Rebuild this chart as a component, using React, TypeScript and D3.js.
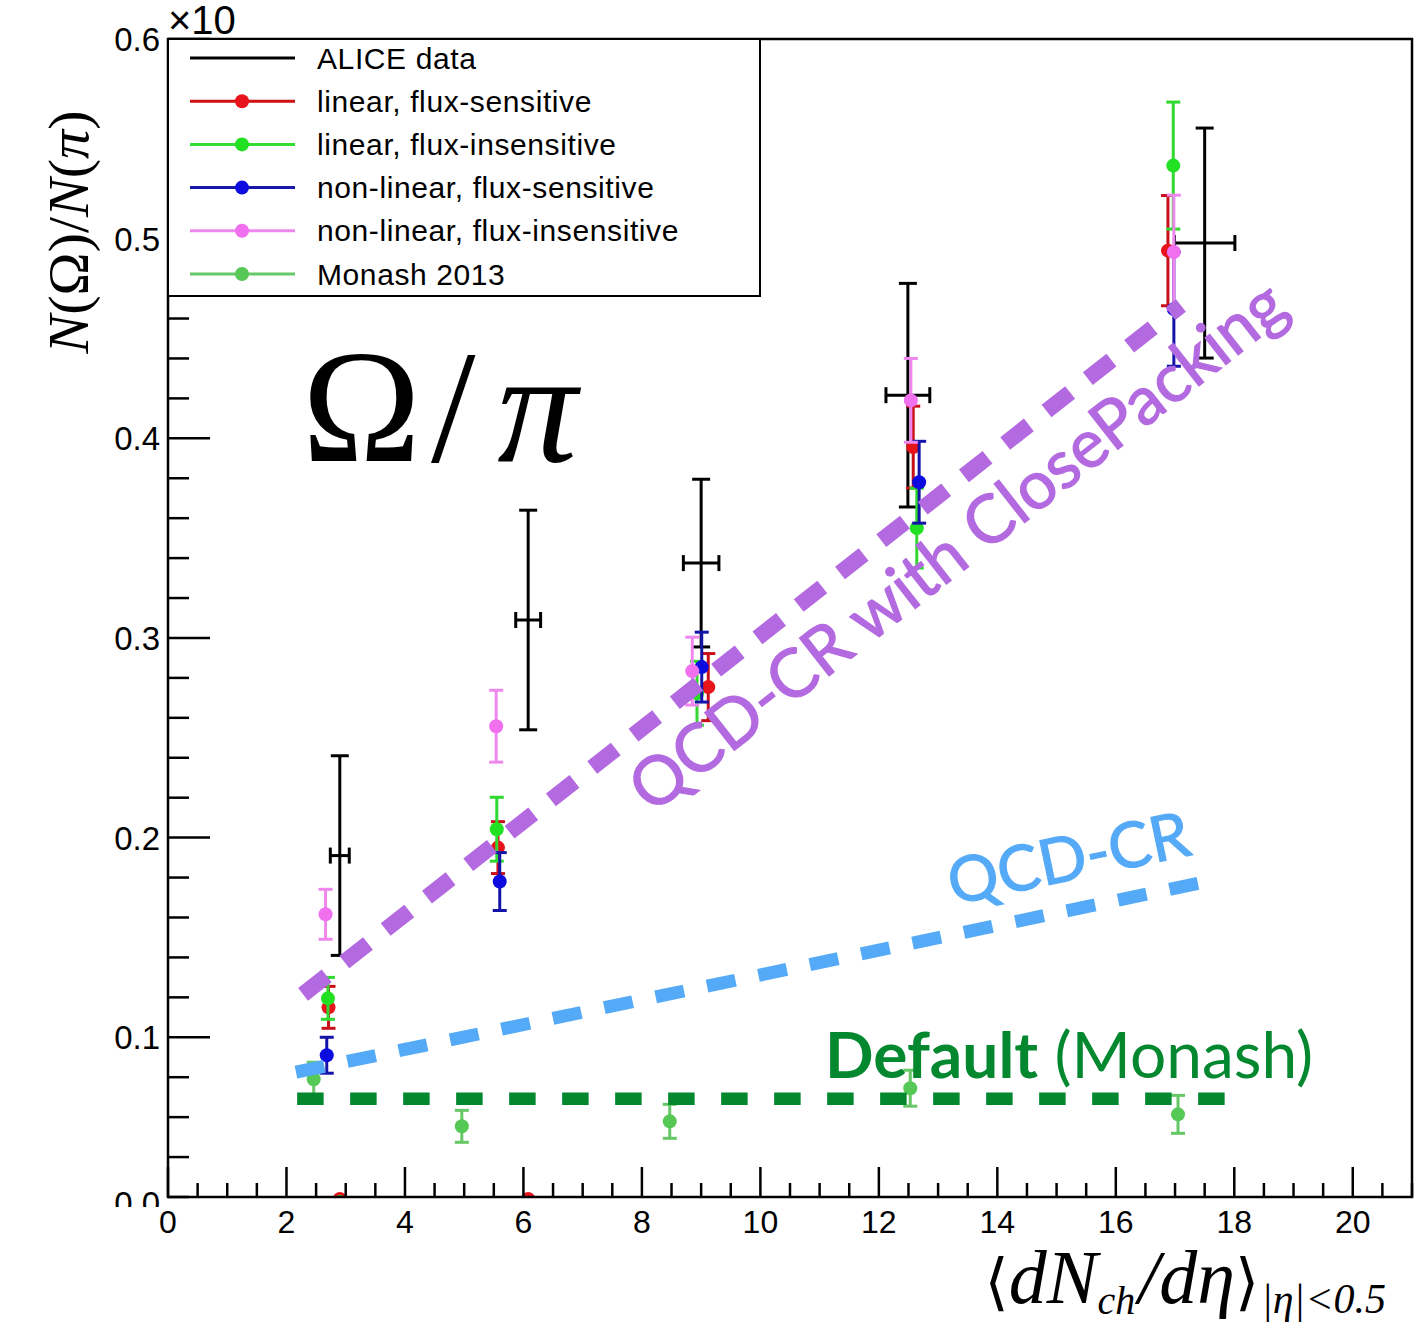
import React, { useRef, useEffect } from "react";
import * as d3 from "d3";

const W = 1418;
const H = 1324;

// axis ranges / ticks
const xDomain = [0, 21];
const yDomain = [0.02, 0.6];
const xTickLabels = [0, 2, 4, 6, 8, 10, 12, 14, 16, 18, 20];
const yTickLabels = [0.1, 0.2, 0.3, 0.4, 0.5, 0.6];

// ALICE data
const aliceX = [2.9, 6.08, 9.0, 12.49, 17.5];
const aliceY = [0.191, 0.309, 0.3375, 0.4216, 0.4978];
const aliceYErr = [0.05, 0.055, 0.042, 0.056, 0.0576];
const aliceXErr = [0.16, 0.21, 0.3, 0.37, 0.51];

// linear, flux-sensitive
const linFsX = [2.71, 5.57, 9.12, 12.58, 16.88];
const linFsY = [0.115, 0.195, 0.2754, 0.3956, 0.494];
const linFsErr = [0.0105, 0.013, 0.0168, 0.0205, 0.0276];

// linear, flux-insensitive
const linFiX = [2.7, 5.55, 8.93, 12.64, 16.97];
const linFiY = [0.1195, 0.2042, 0.2723, 0.355, 0.5366];
const linFiErr = [0.0105, 0.016, 0.016, 0.02, 0.0318];

// non-linear, flux-sensitive
const nlFsX = [2.68, 5.6, 9.01, 12.68, 16.98];
const nlFsY = [0.091, 0.178, 0.2854, 0.378, 0.4647];
const nlFsErr = [0.009, 0.0145, 0.0175, 0.0205, 0.0286];

// non-linear, flux-insensitive
const nlFiX = [2.66, 5.54, 8.85, 12.54, 16.98];
const nlFiY = [0.1616, 0.2558, 0.2834, 0.419, 0.4933];
const nlFiErr = [0.0125, 0.018, 0.017, 0.021, 0.0285];

// Monash 2013
const monX = [2.46, 4.96, 8.47, 12.53, 17.05];
const monY = [0.079, 0.0554, 0.0579, 0.0745, 0.0614];
const monErr = [0.0085, 0.008, 0.0085, 0.009, 0.0095];

// points sitting on the lower edge
const edgeX = [2.9, 2.9, 6.08];
const edgeY = [0.019, 0.019, 0.019];
const edgeColor = ["#e8141b", "#22e022", "#e8141b"];

const legendLabels = [
  "ALICE data",
  "linear, flux-sensitive",
  "linear, flux-insensitive",
  "non-linear, flux-sensitive",
  "non-linear, flux-insensitive",
  "Monash 2013",
];

// annotation lines, in data coords
const purpleLine = [[2.28, 0.1215], [17.1, 0.4665]];
const blueLine = [[2.16, 0.0825], [17.62, 0.1785]];
const greenLine = [[2.18, 0.0692], [17.9, 0.0692]];

const series = [
  { x: linFsX, y: linFsY, e: linFsErr, marker: "#e8141b", bar: "#c8101a", line: "#d01010" },
  { x: linFiX, y: linFiY, e: linFiErr, marker: "#22e022", bar: "#30d830", line: "#33dd33" },
  { x: nlFsX, y: nlFsY, e: nlFsErr, marker: "#0c0ce0", bar: "#1414a8", line: "#1818a8" },
  { x: nlFiX, y: nlFiY, e: nlFiErr, marker: "#f070f0", bar: "#ee88ee", line: "#ee88ee" },
  { x: monX, y: monY, e: monErr, marker: "#55c855", bar: "#66c766", line: "#66c766" },
];

const SANS = "'Liberation Sans', Arial, Helvetica, sans-serif";
const SERIF = "'Liberation Serif', 'Times New Roman', serif";
const ANN = "Lato, 'Open Sans', sans-serif";

const App = () => {
  const svgRef = useRef(null);

  useEffect(() => {
    const svg = d3.select(svgRef.current);
    svg.selectAll("*").remove();

    const x = d3.scaleLinear().domain(xDomain).range([168, 1412]);
    const y = d3.scaleLinear().domain(yDomain).range([1197, 39]);
    const [x0, x1] = x.range();
    const [yb, yt] = y.range();

    const defs = svg.append("defs");
    defs.append("clipPath")
      .attr("id", "plot")
      .append("rect")
      .attr("x", x0)
      .attr("y", yt)
      .attr("width", x1 - x0)
      .attr("height", yb - yt);

    const plot = svg.append("g").attr("clip-path", "url(#plot)");

    // ALICE data points
    aliceX.forEach((xv, i) => {
      const cx = x(xv);
      const cy = y(aliceY[i]);
      const top = y(aliceY[i] + aliceYErr[i]);
      const bot = y(aliceY[i] - aliceYErr[i]);
      const l = x(xv - aliceXErr[i]);
      const r = x(xv + aliceXErr[i]);
      const g = plot.append("g").attr("stroke", "#000").attr("stroke-width", 3);
      g.append("line").attr("x1", cx).attr("x2", cx).attr("y1", top).attr("y2", bot);
      g.append("line").attr("x1", cx - 9).attr("x2", cx + 9).attr("y1", top).attr("y2", top);
      g.append("line").attr("x1", cx - 9).attr("x2", cx + 9).attr("y1", bot).attr("y2", bot);
      g.append("line").attr("x1", l).attr("x2", r).attr("y1", cy).attr("y2", cy);
      g.append("line").attr("x1", l).attr("x2", l).attr("y1", cy - 8).attr("y2", cy + 8);
      g.append("line").attr("x1", r).attr("x2", r).attr("y1", cy - 8).attr("y2", cy + 8);
    });

    // model points
    series.forEach((s) => {
      s.x.forEach((xv, i) => {
        const cx = x(xv);
        const top = y(s.y[i] + s.e[i]);
        const bot = y(s.y[i] - s.e[i]);
        const g = plot.append("g").attr("stroke", s.bar).attr("stroke-width", 3);
        g.append("line").attr("x1", cx).attr("x2", cx).attr("y1", top).attr("y2", bot);
        g.append("line").attr("x1", cx - 7).attr("x2", cx + 7).attr("y1", top).attr("y2", top);
        g.append("line").attr("x1", cx - 7).attr("x2", cx + 7).attr("y1", bot).attr("y2", bot);
        plot.append("circle")
          .attr("cx", cx)
          .attr("cy", y(s.y[i]))
          .attr("r", 7)
          .attr("fill", s.marker);
      });
    });

    edgeX.forEach((xv, i) => {
      plot.append("circle")
        .attr("cx", x(xv))
        .attr("cy", y(edgeY[i]))
        .attr("r", i === 1 ? 4 : 7)
        .attr("fill", edgeColor[i]);
    });

    // frame
    svg.append("rect")
      .attr("x", x0)
      .attr("y", yt)
      .attr("width", x1 - x0)
      .attr("height", yb - yt)
      .attr("fill", "none")
      .attr("stroke", "#000")
      .attr("stroke-width", 2.5);

    // x ticks
    const axes = svg.append("g").attr("stroke", "#000").attr("stroke-width", 2.5);
    d3.range(0, 21.01, 0.5).forEach((v) => {
      const major = Math.abs(v % 2) < 1e-6;
      axes.append("line")
        .attr("x1", x(v)).attr("x2", x(v))
        .attr("y1", yb).attr("y2", yb - (major ? 30 : 14));
    });
    // y ticks
    d3.range(0.02, 0.601, 0.02).forEach((v) => {
      const major = Math.abs(Math.round(v * 10) - v * 10) < 1e-6;
      axes.append("line")
        .attr("x1", x0).attr("x2", x0 + (major ? 42 : 21))
        .attr("y1", y(v)).attr("y2", y(v));
    });

    svg.append("g")
      .selectAll("text")
      .data(xTickLabels)
      .join("text")
      .attr("x", (d) => x(d))
      .attr("y", 1233)
      .attr("text-anchor", "middle")
      .attr("font-family", SANS)
      .attr("font-size", 32)
      .text((d) => d);

    svg.append("g")
      .selectAll("text")
      .data(yTickLabels)
      .join("text")
      .attr("x", 160)
      .attr("y", (d) => y(d) + 12)
      .attr("text-anchor", "end")
      .attr("font-family", SANS)
      .attr("font-size", 33)
      .text((d) => d.toFixed(1));

    // bottom label, half hidden
    defs.append("clipPath")
      .attr("id", "lab0")
      .append("rect")
      .attr("x", 100).attr("y", yb - 30).attr("width", 62).attr("height", 40);
    svg.append("text")
      .attr("clip-path", "url(#lab0)")
      .attr("x", 160)
      .attr("y", yb + 18)
      .attr("text-anchor", "end")
      .attr("font-family", SANS)
      .attr("font-size", 33)
      .text("0.0");

    svg.append("text")
      .attr("x", 168)
      .attr("y", 34)
      .attr("font-family", SANS)
      .attr("font-size", 40)
      .text("×10");

    // y title
    const yt1 = svg.append("text")
      .attr("transform", "translate(88,232) rotate(-90)")
      .attr("text-anchor", "middle")
      .attr("font-family", SERIF)
      .attr("font-size", 58);
    yt1.append("tspan").attr("font-style", "italic").text("N");
    yt1.append("tspan").text("(Ω)/");
    yt1.append("tspan").attr("font-style", "italic").text("N");
    yt1.append("tspan").text("(");
    yt1.append("tspan").attr("font-style", "italic").text("π");
    yt1.append("tspan").text(")");

    // x title
    const xt = svg.append("text")
      .attr("x", 1386)
      .attr("y", 1303)
      .attr("text-anchor", "end")
      .attr("font-family", SERIF)
      .attr("font-style", "italic")
      .attr("font-size", 76);
    xt.append("tspan").attr("font-family", "'DejaVu Serif', serif").attr("font-style", "normal").attr("font-size", 62).text("⟨");
    xt.append("tspan").text("dN");
    xt.append("tspan").attr("font-size", 40).attr("dy", 11).text("ch");
    xt.append("tspan").attr("dy", -11).attr("dx", 3).text("/dη");
    xt.append("tspan").attr("font-family", "'DejaVu Serif', serif").attr("font-style", "normal").attr("font-size", 62).text("⟩");
    xt.append("tspan").attr("font-size", 42).attr("dy", 10).attr("dx", 2).text("|η|<0.5");

    // legend
    const lg = svg.append("g");
    lg.append("rect")
      .attr("x", 168).attr("y", 39).attr("width", 592).attr("height", 257)
      .attr("fill", "#fff").attr("stroke", "#000").attr("stroke-width", 2);
    const legendColors = ["#000", ...series.map((s) => s.line)];
    const legendMarkers = [null, ...series.map((s) => s.marker)];
    legendLabels.forEach((lab, i) => {
      const ry = 58 + i * 43.2;
      lg.append("line")
        .attr("x1", 190).attr("x2", 295).attr("y1", ry).attr("y2", ry)
        .attr("stroke", legendColors[i]).attr("stroke-width", 3);
      if (legendMarkers[i]) {
        lg.append("circle").attr("cx", 242).attr("cy", ry).attr("r", 7).attr("fill", legendMarkers[i]);
      }
      lg.append("text")
        .attr("x", 317).attr("y", ry + 10.5)
        .attr("font-family", SANS).attr("font-size", 30)
        .attr("letter-spacing", 0.6)
        .text(lab);
    });

    // annotations
    const line = d3.line().x((d) => x(d[0])).y((d) => y(d[1]));
    const ang = (pts) =>
      (Math.atan2(y(pts[1][1]) - y(pts[0][1]), x(pts[1][0]) - x(pts[0][0])) * 180) / Math.PI;

    svg.append("path").attr("d", line(blueLine))
      .attr("fill", "none").attr("stroke", "#55aaf7").attr("stroke-width", 13)
      .attr("stroke-dasharray", "29 23.5");
    svg.append("path").attr("d", line(greenLine))
      .attr("fill", "none").attr("stroke", "#03882f").attr("stroke-width", 12.7)
      .attr("stroke-dasharray", "26.5 26.5");
    svg.append("path").attr("d", line(purpleLine))
      .attr("fill", "none").attr("stroke", "#b36ae0").attr("stroke-width", 16)
      .attr("stroke-dasharray", "30 22.5");

    svg.append("text")
      .attr("transform", `translate(652,815) rotate(${ang(purpleLine)})`)
      .attr("font-family", ANN).attr("font-size", 67)
      .attr("fill", "#b36ae0")
      .attr("stroke", "#b36ae0").attr("stroke-width", 1.2)
      .text("QCD-CR with ClosePacking");

    svg.append("text")
      .attr("transform", `translate(953,905) rotate(${ang(blueLine)})`)
      .attr("font-family", ANN).attr("font-size", 63)
      .attr("fill", "#55aaf7")
      .attr("stroke", "#55aaf7").attr("stroke-width", 1.2)
      .text("QCD-CR");

    const dt = svg.append("text")
      .attr("x", 825).attr("y", 1078)
      .attr("font-family", ANN).attr("font-size", 64)
      .attr("fill", "#03882f");
    dt.append("tspan").attr("font-weight", 700).text("Default");
    dt.append("tspan").text(" (Monash)");

    const om = svg.append("text")
      .attr("x", 302).attr("y", 461)
      .attr("font-family", SERIF).attr("font-size", 160);
    om.append("tspan").text("Ω");
    om.append("tspan").attr("dx", 10).text("/");
    om.append("tspan").attr("dx", 22).attr("font-style", "italic").text("π");
  }, []);

  return (
    <svg
      ref={svgRef}
      width={W}
      height={H}
      style={{ position: "absolute", left: 0, top: 0, background: "#fff" }}
    ></svg>
  );
};

export default App;
